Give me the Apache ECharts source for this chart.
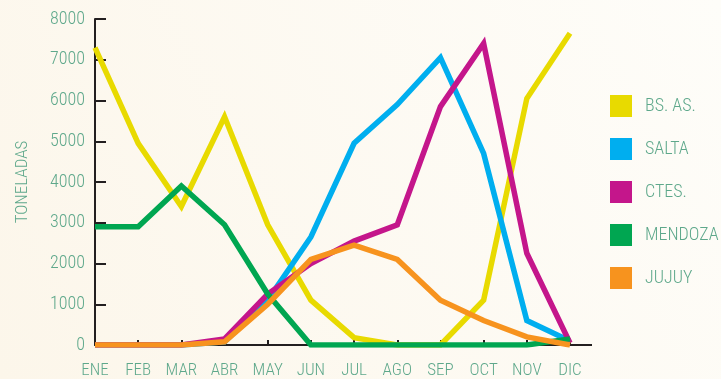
<!DOCTYPE html>
<html>
<head>
<meta charset="utf-8">
<script src="https://cdn.jsdelivr.net/npm/echarts@6/dist/echarts.min.js"></script>
<style>
html,body{margin:0;padding:0;background:#fdf9f0;}
#c{width:721px;height:379px;}
</style>
</head>
<body>
<div id="c"></div>
<script>
const months = ['ENE','FEB','MAR','ABR','MAY','JUN','JUL','AGO','SEP','OCT','NOV','DIC'];
const seriesNames = ['BS. AS.','SALTA','CTES.','MENDOZA','JUJUY'];
const bsas    = [7300, 4950, 3400, 5600, 2950, 1100, 180, 0, 0, 1100, 6050, 7650];
const salta   = [0, 0, 0, 80, 1100, 2650, 4950, 5900, 7050, 4700, 600, 100];
const ctes    = [0, 0, 0, 150, 1250, 2000, 2550, 2950, 5850, 7400, 2250, 50];
const mendoza = [2900, 2900, 3900, 2950, 1250, 0, 0, 0, 0, 0, 0, 150];
const jujuy   = [0, 0, 0, 80, 1000, 2100, 2450, 2100, 1100, 600, 200, 0];
const yTicks  = [0, 1000, 2000, 3000, 4000, 5000, 6000, 7000, 8000];

const colors = ['#e8da00', '#00aeef', '#c4168b', '#00a651', '#f7931e'];
const values = [bsas, salta, ctes, mendoza, jujuy];
const textColor = '#5ea88b';
const font = "'Roboto Condensed', 'Liberation Sans Narrow', sans-serif";

const chart = echarts.init(document.getElementById('c'));
const option = {
  animation: false,
  backgroundColor: {
    type: 'linear', x: 1, y: 0, x2: 0, y2: 1,
    colorStops: [{offset: 0, color: '#fefdf9'}, {offset: 1, color: '#fcf6ea'}]
  },
  color: colors,
  grid: {left: 95, right: 151, top: 19, bottom: 31, containLabel: false},
  legend: {
    orient: 'vertical',
    left: 610, top: 95,
    padding: 0,
    icon: 'rect',
    itemWidth: 22, itemHeight: 22, itemGap: 21,
    data: seriesNames,
    textStyle: {color: textColor, fontSize: 18, fontWeight: 300, fontFamily: font, padding: [0, 0, 0, 8]}
  },
  xAxis: {
    type: 'category',
    data: months,
    boundaryGap: false,
    axisLine: {lineStyle: {color: '#231f20', width: 2}},
    axisTick: {inside: true, length: 5, lineStyle: {color: '#231f20', width: 2}},
    axisLabel: {color: textColor, fontSize: 17, fontWeight: 300, fontFamily: font, margin: 17},
    splitLine: {show: false}
  },
  yAxis: {
    type: 'value',
    min: yTicks[0], max: yTicks[yTicks.length - 1], interval: 1000,
    name: 'TONELADAS',
    nameLocation: 'middle',
    nameRotate: 90,
    nameGap: 64,
    nameTextStyle: {color: textColor, fontSize: 17, fontWeight: 300, fontFamily: font},
    axisLine: {show: true, lineStyle: {color: '#231f20', width: 2}},
    axisTick: {show: true, inside: true, length: 11, lineStyle: {color: '#231f20', width: 2}},
    axisLabel: {color: textColor, fontSize: 18, fontWeight: 300, fontFamily: font, margin: 10,
      formatter: v => String(v)},
    splitLine: {show: false}
  },
  series: seriesNames.map((n, i) => ({
    name: n,
    type: 'line',
    data: values[i],
    symbol: 'none',
    lineStyle: {width: 5.5, color: colors[i], join: 'miter'},
    itemStyle: {color: colors[i]},
    z: 2 + i
  }))
};
chart.setOption(option);
// extend the baseline slightly past the last month, as in the reference
const p0 = chart.convertToPixel({xAxisIndex: 0, yAxisIndex: 0}, [months.length - 1, 0]);
chart.setOption({
  graphic: [{
    type: 'line',
    shape: {x1: p0[0], y1: p0[1], x2: p0[0] + 22, y2: p0[1]},
    style: {stroke: '#231f20', lineWidth: 2},
    z: 1
  }]
});
</script>
</body>
</html>
